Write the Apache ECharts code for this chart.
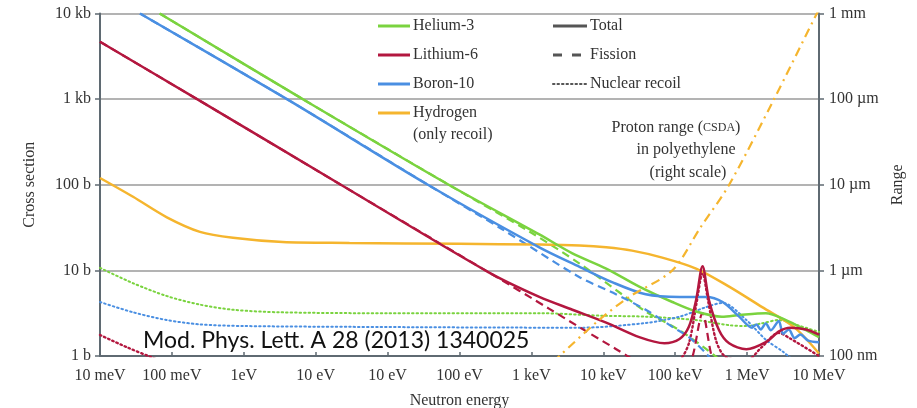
<!DOCTYPE html>
<html>
<head>
<meta charset="utf-8">
<script src="https://cdn.jsdelivr.net/npm/echarts@6.0.0/dist/echarts.min.js"></script>
<style>
  html, body { margin: 0; padding: 0; background: #fff; }
  #chart { width: 917px; height: 408px; }
</style>
</head>
<body>
<div id="chart"></div>
<script>
// x is the decade slot (0 = first tick label, 10 = last), y in barns
const xTickLabels = ['10 meV', '100 meV', '1eV', '10 eV', '10 eV', '100 eV', '1 keV', '10 keV', '100 keV', '1 MeV', '10 MeV'];
const yTickLabels = ['1 b', '10 b', '100 b', '1 kb', '10 kb'];
const rangeTickLabels = ['100 nm', '1 µm', '10 µm', '100 µm', '1 mm'];

const elementNames = ['Helium-3', 'Lithium-6', 'Boron-10', 'Hydrogen'];
const styleNames = ['Total', 'Fission', 'Nuclear recoil'];

const helium3Total = [[0.83, 10000], [2.82, 1000], [4.85, 100], [6.11, 26.3], [6.57, 15.8], [7.04, 10.5], [7.5, 6.46], [7.96, 4.27], [8.29, 3.31], [8.65, 2.88], [8.9, 3.02], [9.26, 3.16], [9.54, 2.63], [9.82, 2.0], [10, 1.66]];
const helium3Fission = [[0.83, 10000], [2.82, 1000], [4.85, 100], [6.0, 27.5], [6.67, 12.0], [7.26, 5.25], [7.59, 3.31], [8.06, 2.0], [8.4, 1.26], [8.7, 0.8]];
const helium3Recoil = [[0, 10.7], [0.46, 7.08], [0.93, 5.01], [1.39, 3.98], [1.85, 3.47], [2.5, 3.24], [4, 3.16], [6.11, 3.16], [7.0, 2.95], [7.59, 2.88], [8.29, 2.63], [8.75, 2.29], [8.99, 2.24], [9.2, 2.4], [9.44, 2.63], [9.7, 2.29], [10, 1.91]];

const lithium6Total = [[0, 4680], [1.35, 1000], [3.35, 100], [5.4, 9.55], [6.11, 4.9], [6.57, 3.47], [7.04, 2.45], [7.5, 1.66], [7.85, 1.41], [8.06, 1.58], [8.19, 2.19], [8.29, 4.47], [8.38, 11.2], [8.47, 4.47], [8.61, 2.0], [8.75, 1.41], [8.99, 1.2], [9.26, 1.45], [9.45, 1.95], [9.6, 2.14], [9.82, 2.04], [10, 1.78]];
const lithium6Fission = [[0, 4680], [1.35, 1000], [3.35, 100], [5.4, 9.55], [6.25, 3.55], [6.76, 1.95], [7.18, 1.2], [7.45, 0.87], [7.9, 0.5], [8.15, 0.6], [8.25, 1.05], [8.38, 3.16], [8.5, 1.05], [8.6, 0.6], [8.9, 0.5]];
const lithium6Recoil = [[0, 1.76], [0.37, 1.27], [0.7, 0.98], [1.2, 0.7], [7.9, 0.7], [8.1, 0.98], [8.2, 1.5], [8.3, 4.3], [8.38, 9.3], [8.46, 4.3], [8.57, 1.5], [8.7, 0.98], [9.0, 0.9], [9.2, 1.26], [9.44, 1.86], [9.6, 1.6], [10, 1.0]];

const boron10Total = [[0.556, 10000], [2.6, 1000], [4.56, 100], [6.11, 18.6], [6.67, 11.0], [7.13, 7.24], [7.59, 5.25], [8.06, 4.9], [8.43, 4.9], [8.66, 4.27], [8.89, 2.88], [9.07, 2.14], [9.13, 2.34], [9.19, 2.04], [9.26, 2.4], [9.33, 2.0], [9.44, 2.57], [9.5, 1.82], [9.58, 2.04], [9.66, 1.62], [9.74, 1.78], [9.85, 1.51], [10, 1.45]];
const boron10Fission = [[0.556, 10000], [2.6, 1000], [4.56, 100], [5.6, 30], [6.67, 8.32], [7.13, 5.5], [7.59, 3.47], [7.96, 2.19], [8.19, 1.66], [8.43, 1.07], [8.6, 0.7]];
const boron10Recoil = [[0, 4.27], [0.46, 3.24], [0.93, 2.63], [1.39, 2.34], [2.0, 2.24], [3.47, 2.19], [6.67, 2.14], [7.59, 2.43], [8.06, 2.88], [8.43, 3.72], [8.66, 4.17], [8.99, 2.63], [9.26, 1.55], [9.5, 1.12], [9.7, 0.8]];

const hydrogenTotal = [[0, 120], [0.46, 72.4], [0.93, 41.7], [1.39, 28.2], [1.85, 24.0], [2.54, 21.4], [3.47, 20.9], [5, 20.4], [6.11, 20.0], [6.67, 19.5], [7.04, 18.6], [7.4, 17.0], [7.82, 14.1], [8.29, 10.5], [8.75, 6.46], [9.21, 3.72], [9.65, 2.19], [10, 1.07]];

// proton range in polyethylene, µm (right scale)
const protonRange = [[6.3, 0.085], [6.39, 0.1], [6.94, 0.263], [7.36, 0.49], [7.96, 1.0], [8.35, 3.16], [8.75, 10], [9.375, 100], [9.97, 1000], [10, 1100]];

const GREEN = '#7ad33f';
const RED = '#b3173f';
const BLUE = '#4a8fe2';
const ORANGE = '#f5b52e';
const AXIS = '#5f6a72';
const TEXT = '#333';
const SERIF = 'Liberation Serif';

const DASH = [8, 5];
const DOT = [1.5, 3];

function curve(data, color, dash, width, yAxisIndex) {
	return {
		type: 'line',
		data: data,
		yAxisIndex: yAxisIndex || 0,
		symbol: 'none',
		smooth: 0.3,
		silent: true,
		clip: true,
		lineStyle: { color: color, width: width, type: dash, cap: dash === DOT ? 'round' : 'butt' }
	};
}

const chart = echarts.init(document.getElementById('chart'));

// legend drawn by hand: two columns, colour column and line-style column
const legendGraphics = [];
const legendColors = [GREEN, RED, BLUE, ORANGE];
elementNames.forEach((n, i) => {
	const y = 26 + i * 29;
	legendGraphics.push({ type: 'line', shape: { x1: 378, y1: y, x2: 410, y2: y }, style: { stroke: legendColors[i], lineWidth: 3 } });
	legendGraphics.push({ type: 'text', x: 413, y: y, style: { text: n, fill: TEXT, font: '16px ' + SERIF, verticalAlign: 'middle' } });
});
legendGraphics.push({ type: 'text', x: 413, y: 135, style: { text: '(only recoil)', fill: TEXT, font: '16px ' + SERIF, verticalAlign: 'middle' } });
const styleDash = [null, [9, 10], [1.5, 3]];
const styleEnd = [587, 581, 587];
styleNames.forEach((n, i) => {
	const y = 26 + i * 29;
	legendGraphics.push({ type: 'line', shape: { x1: 553, y1: y, x2: styleEnd[i], y2: y }, style: { stroke: '#555', lineWidth: i === 2 ? 2 : 3, lineDash: styleDash[i], lineCap: i === 2 ? 'round' : 'butt' } });
	legendGraphics.push({ type: 'text', x: 590, y: y, style: { text: n, fill: TEXT, font: '16px ' + SERIF, verticalAlign: 'middle' } });
});

const option = {
	animation: false,
	grid: { left: 100, right: 98, top: 13.5, bottom: 52, outerBoundsMode: 'none' },
	xAxis: {
		type: 'value',
		min: 0,
		max: 10,
		interval: 1,
		axisLine: { show: true, onZero: false, lineStyle: { color: AXIS, width: 2 } },
		axisTick: { show: true, inside: true, length: 4, lineStyle: { color: AXIS, width: 1.5 } },
		axisLabel: { formatter: v => xTickLabels[v], color: TEXT, fontFamily: SERIF, fontSize: 16, margin: 12 },
		splitLine: { show: false },
		name: 'Neutron energy',
		nameLocation: 'middle',
		nameGap: 37,
		nameTextStyle: { color: TEXT, fontFamily: SERIF, fontSize: 16 }
	},
	yAxis: [
		{
			type: 'log',
			logBase: 10,
			min: 1,
			max: 10000,
			axisLine: { show: true, lineStyle: { color: AXIS, width: 2 } },
			axisTick: { show: true, length: 5, lineStyle: { color: AXIS, width: 1.5 } },
			axisLabel: { formatter: v => yTickLabels[Math.round(Math.log10(v))], color: TEXT, fontFamily: SERIF, fontSize: 16, margin: 9 },
			splitLine: { show: true, lineStyle: { color: '#9a9a9a', width: 1.5 } },
			name: 'Cross section',
			nameLocation: 'middle',
			nameGap: 62,
			nameTextStyle: { color: TEXT, fontFamily: SERIF, fontSize: 16 }
		},
		{
			type: 'log',
			logBase: 10,
			min: 0.1,
			max: 1000,
			position: 'right',
			axisLine: { show: true, lineStyle: { color: AXIS, width: 2 } },
			axisTick: { show: true, length: 5, lineStyle: { color: AXIS, width: 1.5 } },
			axisLabel: { formatter: v => rangeTickLabels[Math.round(Math.log10(v)) + 1], color: TEXT, fontFamily: SERIF, fontSize: 16, margin: 10 },
			splitLine: { show: false },
			name: 'Range',
			nameLocation: 'middle',
			nameRotate: 90,
			nameGap: 66,
			nameTextStyle: { color: TEXT, fontFamily: SERIF, fontSize: 16 }
		}
	],
	series: [
		curve(helium3Recoil, GREEN, DOT, 2),
		curve(boron10Recoil, BLUE, DOT, 2),
		curve(lithium6Recoil, RED, DOT, 2.4),
		curve(helium3Fission, GREEN, DASH, 2.2),
		curve(boron10Fission, BLUE, DASH, 2.2),
		curve(lithium6Fission, RED, DASH, 2.2),
		curve(hydrogenTotal, ORANGE, 'solid', 2.5),
		curve(helium3Total, GREEN, 'solid', 2.5),
		curve(boron10Total, BLUE, 'solid', 2.5),
		curve(lithium6Total, RED, 'solid', 2.5),
		curve(protonRange, ORANGE, [9, 5, 2, 5], 2.2, 1)
	],
	graphic: legendGraphics.concat([
		{ type: 'text', x: 676, y: 128, style: { text: '{a|Proton range (}{b|CSDA}{a|)}', align: 'center', verticalAlign: 'middle', rich: { a: { font: '16px ' + SERIF, fill: TEXT }, b: { font: '12px ' + SERIF, fill: TEXT } } } },
		{ type: 'text', x: 686, y: 150, style: { text: 'in polyethylene', fill: TEXT, font: '16px ' + SERIF, align: 'center', verticalAlign: 'middle' } },
		{ type: 'text', x: 688, y: 173, style: { text: '(right scale)', fill: TEXT, font: '16px ' + SERIF, align: 'center', verticalAlign: 'middle' } },
		{ type: 'text', x: 143, y: 341, z: 100, style: { text: 'Mod. Phys. Lett. A 28 (2013) 1340025', fill: '#111', font: '23px Lato', verticalAlign: 'middle' } }
	])
};

chart.setOption(option);
window.addEventListener('resize', () => chart.resize());
</script>
</body>
</html>
